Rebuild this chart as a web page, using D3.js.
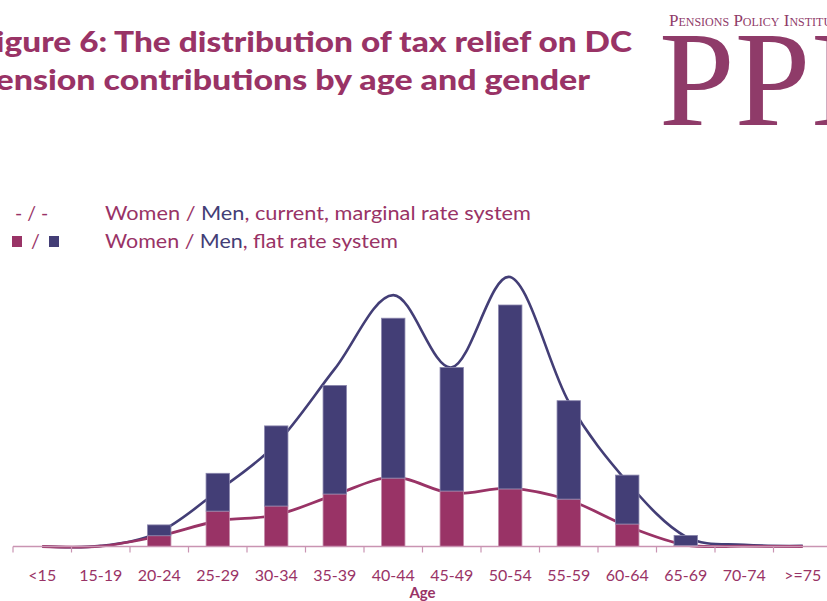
<!DOCTYPE html>
<html>
<head>
<meta charset="utf-8">
<script src="https://cdn.jsdelivr.net/npm/d3@7"></script>
<style>
  html, body { margin: 0; padding: 0; background: #fff; overflow: hidden; }
  svg { display: block; }
</style>
</head>
<body>
<svg id="chart" width="827" height="601"></svg>
<script>
// ---- data ----
const categories = ["<15","15-19","20-24","25-29","30-34","35-39","40-44","45-49","50-54","55-59","60-64","65-69","70-74",">=75"];
// flat rate system (bars, stacked: women bottom, men on top)
const womenFlat = [0, 0, 3.6, 11.8, 13.5, 17.5, 22.8, 18.5, 19.2, 15.8, 7.5, 0.3, 0, 0];
const menFlat   = [0, 0, 3.6, 12.6, 26.7, 36.2, 53.3, 41.2, 61.3, 32.8, 16.3, 3.4, 0, 0];
// current, marginal rate system (lines; men stacked on women)
const womenMarginal = [0, 0.1, 3.5, 8.5, 10.5, 17.2, 23.1, 17.7, 19.4, 15.5, 6.8, 0.5, 0.1, 0];
const menMarginal   = [0, 0.1, 1.3, 10.0, 23.7, 42.0, 60.7, 42.0, 70.4, 32.7, 14.7, 2.8, 0.5, 0.2];

const titleLines = ["Figure 6: The distribution of tax relief on DC", "Pension contributions by age and gender"];
const xTitle = "Age";

const pink = "#993366";
const indigo = "#433e76";
const logoColor = "#8f3b69";

const svg = d3.select("#chart");

// ---- title ----
svg.append("text").attr("x", -23).attr("y", 52)
  .attr("textLength", 655).attr("lengthAdjust", "spacingAndGlyphs")
  .style("font-family", "Lato, 'Open Sans', sans-serif").style("font-weight", "900")
  .style("font-size", "29px").attr("fill", pink).text(titleLines[0]);
svg.append("text").attr("x", -25).attr("y", 90)
  .attr("textLength", 615).attr("lengthAdjust", "spacingAndGlyphs")
  .style("font-family", "Lato, 'Open Sans', sans-serif").style("font-weight", "900")
  .style("font-size", "29px").attr("fill", pink).text(titleLines[1]);

// ---- logo ----
svg.append("text").attr("x", 669).attr("y", 26)
  .style("font-family", "'Liberation Serif', 'DejaVu Serif', serif")
  .style("font-variant", "small-caps").style("font-size", "17px")
  .attr("fill", logoColor).text("Pensions Policy Institute");
svg.append("text").attr("x", 659).attr("y", 125)
  .style("font-family", "'Liberation Serif', 'DejaVu Serif', serif")
  .style("font-size", "136px").attr("fill", logoColor).text("PPI");

// ---- legend ----
const lg = svg.append("g").style("font-family", "Lato, 'Open Sans', sans-serif").style("font-size", "19.5px");
lg.append("text").attr("x", 15).attr("y", 220).attr("fill", pink).text("- / -");
lg.append("rect").attr("x", 12).attr("y", 236).attr("width", 10).attr("height", 11).attr("fill", pink);
lg.append("text").attr("x", 31).attr("y", 248).attr("fill", pink).text("/");
lg.append("rect").attr("x", 49).attr("y", 236).attr("width", 10).attr("height", 11).attr("fill", indigo);
const l1 = lg.append("text").attr("x", 105).attr("y", 220).attr("textLength", 426).attr("lengthAdjust", "spacingAndGlyphs");
l1.append("tspan").attr("fill", pink).text("Women / ");
l1.append("tspan").attr("fill", indigo).text("Men");
l1.append("tspan").attr("fill", pink).text(", current, marginal rate system");
const l2 = lg.append("text").attr("x", 105).attr("y", 248).attr("textLength", 293).attr("lengthAdjust", "spacingAndGlyphs");
l2.append("tspan").attr("fill", pink).text("Women / ");
l2.append("tspan").attr("fill", indigo).text("Men");
l2.append("tspan").attr("fill", pink).text(", flat rate system");

// ---- scales ----
const x = d3.scaleBand().domain(categories).range([13, 13 + 14 * 58.5]).paddingInner(0.6).paddingOuter(0.3);
const y = d3.scaleLinear().domain([0, 100]).range([546.5, 246.5]);
const step = x.step();

const rows = categories.map((c, i) => ({
  cat: c, wf: womenFlat[i], mf: menFlat[i], wm: womenMarginal[i], mm: menMarginal[i]
}));

// ---- lines (behind bars) ----
const cx = d => x(d.cat) + x.bandwidth() / 2;
const lineW = d3.line().x(cx).y(d => y(d.wm)).curve(d3.curveCardinal.tension(0));
const lineM = d3.line().x(cx).y(d => y(d.wm + d.mm)).curve(d3.curveCardinal.tension(0));
svg.append("path").datum(rows).attr("d", lineM).attr("fill", "none").attr("stroke", indigo).attr("stroke-width", 2.6);
svg.append("path").datum(rows).attr("d", lineW).attr("fill", "none").attr("stroke", pink).attr("stroke-width", 2.8);

// ---- bars ----
const bars = svg.append("g");
bars.selectAll("rect.w").data(rows.filter(d => d.wf > 0)).join("rect").attr("class", "w")
  .attr("x", d => x(d.cat)).attr("width", x.bandwidth())
  .attr("y", d => y(d.wf)).attr("height", d => y(0) - y(d.wf))
  .attr("fill", pink).attr("stroke", "#c48aa8").attr("stroke-width", 0.8);
bars.selectAll("rect.m").data(rows.filter(d => d.mf > 0)).join("rect").attr("class", "m")
  .attr("x", d => x(d.cat)).attr("width", x.bandwidth())
  .attr("y", d => y(d.wf + d.mf)).attr("height", d => y(d.wf) - y(d.wf + d.mf))
  .attr("fill", indigo).attr("stroke", "#8a86ad").attr("stroke-width", 0.8);

// ---- axis ----
const axisColor = "#c994b2";
const ax = svg.append("g").attr("transform", `translate(0,${y(0)})`)
  .call(d3.axisBottom(x).tickSize(0).tickSizeOuter(0).tickPadding(23));
ax.select(".domain").remove();
ax.selectAll("text").attr("fill", pink).style("font-family", "Lato, 'Open Sans', sans-serif").style("font-size", "16px");
svg.append("line").attr("x1", 13).attr("x2", 827).attr("y1", y(0)).attr("y2", y(0))
  .attr("stroke", axisColor).attr("stroke-width", 1.6);
svg.append("g").selectAll("line").data(categories).join("line")
  .attr("x1", d => x(d) - (step - x.bandwidth()) / 2).attr("x2", d => x(d) - (step - x.bandwidth()) / 2)
  .attr("y1", y(0)).attr("y2", y(0) + 6).attr("stroke", axisColor).attr("stroke-width", 1.2);

svg.append("text").attr("x", x("45-49") + x.bandwidth() / 2 - step / 2).attr("y", 598)
  .attr("text-anchor", "middle").attr("fill", pink)
  .style("font-family", "Lato, 'Open Sans', sans-serif").style("font-weight", "bold").style("font-size", "15px")
  .text(xTitle);
</script>
</body>
</html>
